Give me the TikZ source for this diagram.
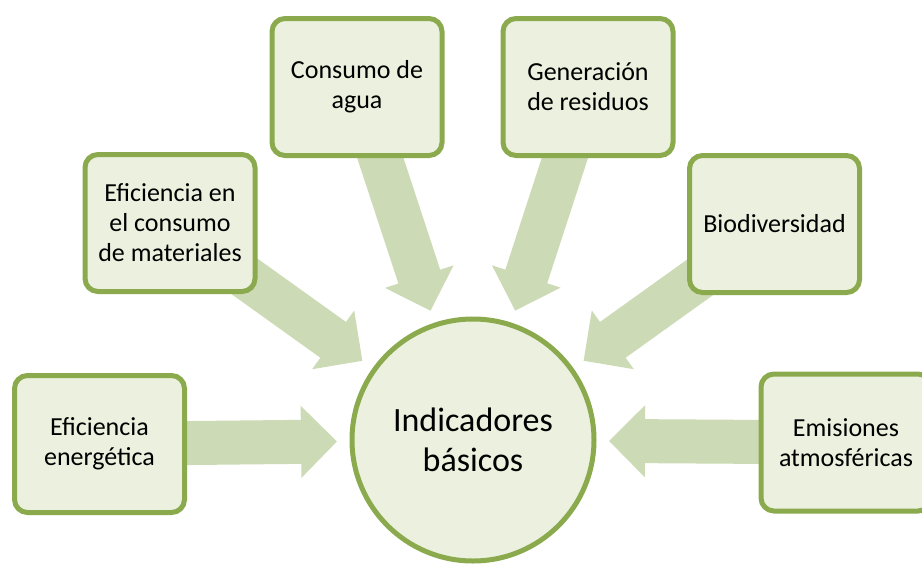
\documentclass[tikz,border=0pt]{standalone}
\usepackage{fontspec}
\setmainfont{Carlito}
\usetikzlibrary{arrows.meta,backgrounds}
\definecolor{boxfill}{HTML}{EBF1DE}
\definecolor{boxline}{HTML}{8BAA4D}
\definecolor{arrowcol}{HTML}{CCDBB5}
\tikzset{
  itembox/.style={draw=boxline, fill=boxfill, line width=5pt, rounded corners=13pt,
    minimum width=170pt, minimum height=137pt, align=center, inner sep=2pt,
    font=\fontsize{26}{30}\selectfont, text=black},
  hub/.style={circle, draw=boxline, fill=boxfill, line width=5pt, minimum size=242pt,
    align=center, font=\fontsize{34}{40}\selectfont, text=black, inner sep=0pt},
  bigarrow/.style={draw=arrowcol, line width=44pt, shorten >=136pt,
    -{Triangle[width=70pt,length=36pt,fill=arrowcol]}}
}
\begin{document}
\begin{tikzpicture}[x=1pt,y=-1pt]
\clip (0,0) rectangle (922,563);
\node[hub] (c) at (473,440) {Indicadores\\básicos};
\node[itembox] (ee) at (99.5,444) {Eficiencia\\energética};
\node[itembox] (mat) at (170,223) {Eficiencia en\\el consumo\\de materiales};
\node[itembox] (agua) at (357,87) {Consumo de\\agua};
\node[itembox] (res) at (588,87) {Generación\\de residuos};
\node[itembox] (bio) at (774.5,224) {Biodiversidad};
\node[itembox] (emi) at (846,442.5) {Emisiones\\atmosféricas};
\begin{pgfonlayer}{background}
\fill[white] (0,0) rectangle (922,563);
\foreach \b in {ee,mat,agua,res,bio,emi}{
  \draw[bigarrow] (\b.center) -- (c.center);
}
\end{pgfonlayer}
\end{tikzpicture}
\end{document}
